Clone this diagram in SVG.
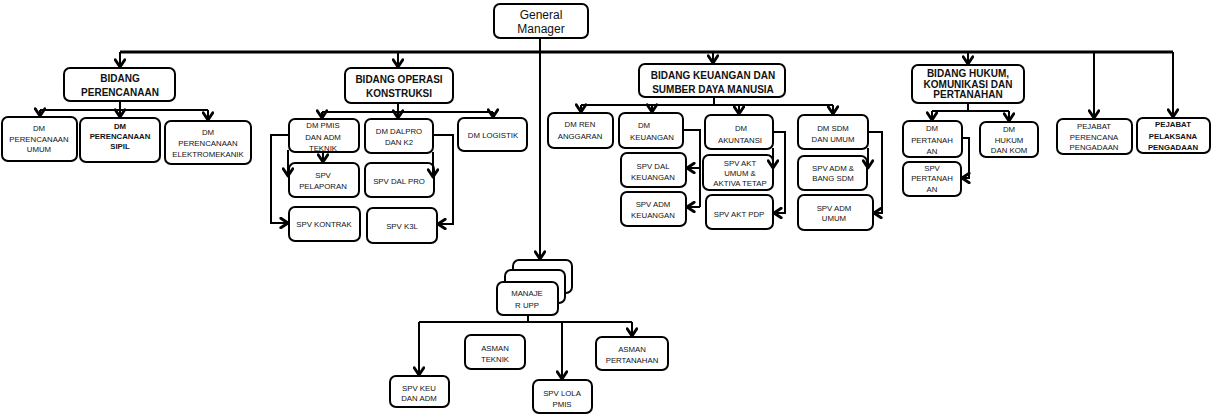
<svg xmlns="http://www.w3.org/2000/svg" width="1212" height="416" viewBox="0 0 1212 416">
<style>
.box{fill:#fff;stroke:#000;stroke-width:2}
text{font-family:"Liberation Sans",Arial,sans-serif;fill:#111;text-anchor:middle}
.s{font-size:7.8px}
.sb{font-size:7.8px;font-weight:bold}
.b{font-size:10px;font-weight:bold}
.g{font-size:12px}
.c{fill:none;stroke:#000;stroke-width:2}
.bus{fill:none;stroke:#000;stroke-width:3}
</style>
<defs>
<marker id="arr" markerUnits="userSpaceOnUse" markerWidth="12" markerHeight="12" viewBox="0 0 10 10" refX="8.5" refY="5" orient="auto">
<path d="M2.5,1 L8.5,5 L2.5,9" fill="none" stroke="#000" stroke-width="2.4" stroke-linejoin="round" stroke-linecap="round"/>
</marker>
</defs>
<rect width="1212" height="416" fill="#fff"/>

<g id="gm"><rect class="box" x="494" y="4" width="94" height="34" rx="6"/><text class="g" x="541" y="19">General</text><text class="g" x="541" y="33">Manager</text></g>

<g id="bidang-perencanaan"><rect class="box" x="64" y="68" width="111" height="33" rx="6"/><text class="b" x="120" y="82">BIDANG</text><text class="b" x="120" y="96">PERENCANAAN</text></g>
<g id="dm-ren-umum"><rect class="box" x="2" y="117" width="75" height="44" rx="6"/><text class="s" x="39" y="131">DM</text><text class="s" x="39" y="142">PERENCANAAN</text><text class="s" x="39" y="152">UMUM</text></g>
<g id="dm-ren-sipil"><rect class="box" x="80" y="118" width="80" height="44" rx="6"/><text class="sb" x="120" y="129">DM</text><text class="sb" x="120" y="139">PERENCANAAN</text><text class="sb" x="120" y="149">SIPIL</text></g>
<g id="dm-ren-elektro"><rect class="box" x="165" y="121" width="86" height="43" rx="6"/><text class="s" x="208" y="135">DM</text><text class="s" x="208" y="146">PERENCANAAN</text><text class="s" x="208" y="157">ELEKTROMEKANIK</text></g>

<g id="bidang-operasi"><rect class="box" x="345" y="68" width="108" height="35" rx="6"/><text class="b" x="399" y="83">BIDANG OPERASI</text><text class="b" x="399" y="97">KONSTRUKSI</text></g>
<g id="dm-pmis"><rect class="box" x="289" y="119" width="70" height="33" rx="6"/><text class="s" x="323" y="128">DM PMIS</text><text class="s" x="323" y="140">DAN ADM</text><text class="s" x="323" y="151">TEKNIK</text></g>
<g id="dm-dalpro"><rect class="box" x="365" y="119" width="68" height="34" rx="6"/><text class="s" x="399" y="134">DM DALPRO</text><text class="s" x="399" y="145">DAN K2</text></g>
<g id="dm-logistik"><rect class="box" x="458" y="118" width="69" height="33" rx="6"/><text class="s" x="493" y="138">DM LOGISTIK</text></g>
<g id="spv-pelaporan"><rect class="box" x="289" y="163" width="70" height="34" rx="6"/><text class="s" x="323" y="178">SPV</text><text class="s" x="323" y="189">PELAPORAN</text></g>
<g id="spv-dalpro"><rect class="box" x="365" y="163" width="69" height="34" rx="6"/><text class="s" x="399" y="184">SPV DAL PRO</text></g>
<g id="spv-kontrak"><rect class="box" x="289" y="207" width="71" height="34" rx="6"/><text class="s" x="324" y="227">SPV KONTRAK</text></g>
<g id="spv-k3l"><rect class="box" x="367" y="208" width="70" height="35" rx="6"/><text class="s" x="402" y="229">SPV K3L</text></g>

<g id="bidang-keuangan"><rect class="box" x="639" y="64" width="146" height="33" rx="6"/><text class="b" x="713" y="79">BIDANG KEUANGAN DAN</text><text class="b" x="713" y="93">SUMBER DAYA MANUSIA</text></g>
<g id="dm-ren-anggaran"><rect class="box" x="548" y="113" width="65" height="35" rx="6"/><text class="s" x="580" y="127">DM  REN</text><text class="s" x="580" y="139">ANGGARAN</text></g>
<g id="dm-keuangan"><rect class="box" x="619" y="113" width="64" height="35" rx="6"/><text class="s" x="644" y="128">DM</text><text class="s" x="652" y="140">KEUANGAN</text></g>
<g id="dm-akuntansi"><rect class="box" x="705" y="115" width="68" height="34" rx="6"/><text class="s" x="741" y="131">DM</text><text class="s" x="740" y="143">AKUNTANSI</text></g>
<g id="spv-dal-keuangan"><rect class="box" x="621" y="153" width="65" height="34" rx="6"/><text class="s" x="653" y="169">SPV  DAL</text><text class="s" x="653" y="180">KEUANGAN</text></g>
<g id="spv-adm-keuangan"><rect class="box" x="621" y="192" width="65" height="34" rx="6"/><text class="s" x="653" y="207">SPV  ADM</text><text class="s" x="653" y="218">KEUANGAN</text></g>
<g id="spv-akt-umum"><rect class="box" x="703" y="155" width="70" height="35" rx="6"/><text class="s" x="740" y="166">SPV  AKT</text><text class="s" x="740" y="176">UMUM &amp;</text><text class="s" x="740" y="186">AKTIVA TETAP</text></g>
<g id="spv-akt-pdp"><rect class="box" x="706" y="195" width="67" height="34" rx="6"/><text class="s" x="739" y="217">SPV  AKT PDP</text></g>
<g id="dm-sdm"><rect class="box" x="798" y="115" width="70" height="34" rx="6"/><text class="s" x="833" y="131">DM  SDM</text><text class="s" x="833" y="142">DAN UMUM</text></g>
<g id="spv-adm-sdm"><rect class="box" x="798" y="156" width="69" height="34" rx="6"/><text class="s" x="833" y="171">SPV  ADM &amp;</text><text class="s" x="833" y="181">BANG SDM</text></g>
<g id="spv-adm-umum"><rect class="box" x="798" y="195" width="75" height="35" rx="6"/><text class="s" x="834" y="211">SPV  ADM</text><text class="s" x="834" y="221">UMUM</text></g>

<g id="bidang-hukum"><rect class="box" x="912" y="65" width="112" height="38" rx="6"/><text class="b" x="968" y="77">BIDANG HUKUM,</text><text class="b" x="968" y="87.5">KOMUNIKASI DAN</text><text class="b" x="968" y="98">PERTANAHAN</text></g>
<g id="dm-pertanahan"><rect class="box" x="903" y="121" width="59" height="36" rx="6"/><text class="s" x="932" y="131">DM</text><text class="s" x="932" y="143">PERTANAH</text><text class="s" x="932" y="154">AN</text></g>
<g id="spv-pertanahan"><rect class="box" x="903" y="162" width="58" height="34" rx="6"/><text class="s" x="932" y="171">SPV</text><text class="s" x="932" y="181">PERTANAH</text><text class="s" x="932" y="192">AN</text></g>
<g id="dm-hukum"><rect class="box" x="980" y="122" width="58" height="35" rx="6"/><text class="s" x="1009" y="132">DM</text><text class="s" x="1009" y="143">HUKUM</text><text class="s" x="1009" y="153">DAN KOM</text></g>

<g id="pejabat-perencana"><rect class="box" x="1057" y="119" width="75" height="35" rx="6"/><text class="s" x="1094" y="129">PEJABAT</text><text class="s" x="1094" y="140">PERENCANA</text><text class="s" x="1094" y="150">PENGADAAN</text></g>
<g id="pejabat-pelaksana"><rect class="box" x="1137" y="118" width="73" height="35" rx="6"/><text class="sb" x="1173" y="127">PEJABAT</text><text class="sb" x="1173" y="139">PELAKSANA</text><text class="sb" x="1173" y="150">PENGADAAN</text></g>

<g id="manajer-upp"><rect class="box" x="513" y="260" width="59" height="33" rx="6"/><rect class="box" x="505" y="270" width="60" height="33" rx="6"/><rect class="box" x="497" y="282" width="61" height="33" rx="6"/><text class="s" x="527" y="296">MANAJE</text><text class="s" x="527" y="308">R  UPP</text></g>
<g id="asman-teknik"><rect class="box" x="465" y="335" width="60" height="34" rx="6"/><text class="s" x="495" y="351">ASMAN</text><text class="s" x="495" y="362">TEKNIK</text></g>
<g id="asman-pertanahan"><rect class="box" x="596" y="337" width="72" height="33" rx="6"/><text class="s" x="632" y="352">ASMAN</text><text class="s" x="632" y="363">PERTANAHAN</text></g>
<g id="spv-keu-adm"><rect class="box" x="390" y="376" width="59" height="31" rx="6"/><text class="s" x="419" y="391">SPV KEU</text><text class="s" x="419" y="401">DAN ADM</text></g>
<g id="spv-lola"><rect class="box" x="533" y="380" width="59" height="33" rx="6"/><text class="s" x="562" y="396">SPV LOLA</text><text class="s" x="562" y="407">PMIS</text></g>

<g id="connectors">
<path class="bus" d="M120,52 H1173"/>
<path class="c" d="M540,38 V52"/>
<path class="c" d="M540,52 V259" marker-end="url(#arr)"/>
<path class="c" d="M120,52 V67" marker-end="url(#arr)"/>
<path class="c" d="M398,52 V67" marker-end="url(#arr)"/>
<path class="c" d="M713,52 V63" marker-end="url(#arr)"/>
<path class="c" d="M968,52 V64" marker-end="url(#arr)"/>
<path class="c" d="M1094,52 V118" marker-end="url(#arr)"/>
<path class="c" d="M1173,52 V117" marker-end="url(#arr)"/>

<path class="c" d="M120,101 V110 M40,110 H208"/>
<path class="c" d="M40,110 V116" marker-end="url(#arr)"/>
<path class="c" d="M120,110 V117" marker-end="url(#arr)"/>
<path class="c" d="M208,110 V120" marker-end="url(#arr)"/>

<path class="c" d="M398,103 V112 M322,112 H493"/>
<path class="c" d="M322,112 V118" marker-end="url(#arr)"/>
<path class="c" d="M398,112 V118" marker-end="url(#arr)"/>
<path class="c" d="M493,112 V117" marker-end="url(#arr)"/>
<path class="c" d="M323,152 V162" marker-end="url(#arr)"/>
<path class="c" d="M288,150 V176" marker-end="url(#arr)"/>
<path class="c" d="M289,135 H271 V223 H288" marker-end="url(#arr)"/>
<path class="c" d="M433,135 H453 V224 H438" marker-end="url(#arr)"/>
<path class="c" d="M433,152 V177" marker-end="url(#arr)"/>

<path class="c" d="M714,97 V105 M581,105 H833"/>
<path class="c" d="M581,105 V112" marker-end="url(#arr)"/>
<path class="c" d="M652,105 V112" marker-end="url(#arr)"/>
<path class="c" d="M739,105 V114" marker-end="url(#arr)"/>
<path class="c" d="M833,105 V114" marker-end="url(#arr)"/>
<path class="c" d="M683,130 H700 V207"/>
<path class="c" d="M700,168 H687" marker-end="url(#arr)"/>
<path class="c" d="M700,207 H687" marker-end="url(#arr)"/>
<path class="c" d="M773,132 H785 V213 H774" marker-end="url(#arr)"/>
<path class="c" d="M773,148 V168" marker-end="url(#arr)"/>
<path class="c" d="M868,132 H882 V213 H874" marker-end="url(#arr)"/>
<path class="c" d="M868,148 V168" marker-end="url(#arr)"/>

<path class="c" d="M968,103 V111 M932,111 H1009"/>
<path class="c" d="M932,111 V120" marker-end="url(#arr)"/>
<path class="c" d="M1009,111 V121" marker-end="url(#arr)"/>
<path class="c" d="M962,138 H969 V178 H962" marker-end="url(#arr)"/>

<path class="c" d="M528,315 V322 M419,322 H632"/>
<path class="c" d="M419,322 V375" marker-end="url(#arr)"/>
<path class="c" d="M562,322 V379" marker-end="url(#arr)"/>
<path class="c" d="M632,322 V336" marker-end="url(#arr)"/>
</g>
</svg>
